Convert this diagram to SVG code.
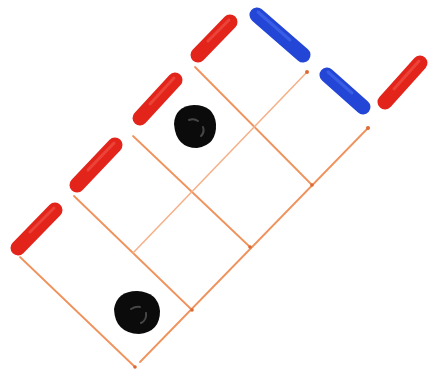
<svg xmlns="http://www.w3.org/2000/svg" width="434" height="375" viewBox="0 0 434 375">
  <style>
    .grid { stroke: #f0925c; stroke-width: 1.8; fill: none; stroke-linecap: round; }
    .grid-light { stroke: #f5b088; stroke-width: 1.5; fill: none; stroke-linecap: round; }
    .dot { fill: #dd6a34; }
    .red { stroke: #e3241a; stroke-width: 15; stroke-linecap: round; fill: none; }
    .red-hi { stroke: #f2584c; stroke-width: 3; stroke-linecap: round; fill: none; opacity: 0.6; }
    .blue { stroke: #2346d6; stroke-width: 15; stroke-linecap: round; fill: none; }
    .blue-hi { stroke: #4a6cf0; stroke-width: 3; stroke-linecap: round; fill: none; opacity: 0.6; }
    .blob { fill: #0b0b0b; }
    .blob-hi { stroke: #555555; stroke-width: 2; fill: none; stroke-linecap: round; opacity: 0.8; }
  </style>
  <rect width="434" height="375" fill="#ffffff"/>
  <g id="connectors">
    <line class="grid" x1="20" y1="257" x2="135" y2="367"/>
    <line class="grid" x1="74" y1="196" x2="192" y2="310"/>
    <line class="grid" x1="133" y1="136" x2="250" y2="247"/>
    <line class="grid" x1="195" y1="67" x2="312" y2="185"/>
    <line class="grid" x1="140" y1="362" x2="368" y2="128"/>
    <line class="grid-light" x1="133" y1="253" x2="307" y2="72"/>
    <circle class="dot" cx="135" cy="367" r="1.8"/>
    <circle class="dot" cx="192" cy="310" r="1.8"/>
    <circle class="dot" cx="250" cy="247" r="1.8"/>
    <circle class="dot" cx="312" cy="185" r="1.8"/>
    <circle class="dot" cx="368" cy="128" r="2"/>
    <circle class="dot" cx="307" cy="72" r="2"/>
  </g>
  <g id="red-1"><line class="red" x1="18" y1="248" x2="55" y2="210"/><line class="red-hi" x1="30" y1="232" x2="54" y2="208"/></g>
  <g id="red-2"><line class="red" x1="77" y1="185" x2="115" y2="145"/><line class="red-hi" x1="88" y1="170" x2="114" y2="143"/></g>
  <g id="red-3"><line class="red" x1="140" y1="118" x2="175" y2="80"/><line class="red-hi" x1="150" y1="104" x2="174" y2="78"/></g>
  <g id="red-4"><line class="red" x1="198" y1="55" x2="230" y2="22"/><line class="red-hi" x1="208" y1="41" x2="229" y2="20"/></g>
  <g id="blue-1"><line class="blue" x1="257" y1="15" x2="303" y2="55"/><line class="blue-hi" x1="258" y1="12" x2="290" y2="40"/></g>
  <g id="blue-2"><line class="blue" x1="327" y1="75" x2="363" y2="107"/><line class="blue-hi" x1="328" y1="72" x2="352" y2="93"/></g>
  <g id="red-5"><line class="red" x1="385" y1="102" x2="420" y2="63"/><line class="red-hi" x1="394" y1="89" x2="419" y2="61"/></g>
  <g id="blob-1">
    <path class="blob" d="M174 124 Q175 106 194 105 Q214 105 216 124 Q217 145 197 148 Q176 148 174 124 Z"/>
    <path class="blob-hi" d="M189 120 Q194 118 198 121"/>
    <path class="blob-hi" d="M203 127 Q205 132 201 136"/>
  </g>
  <g id="blob-2">
    <path class="blob" d="M114 309 Q117 291 137 291 Q158 292 160 311 Q160 332 139 334 Q115 333 114 309 Z"/>
    <path class="blob-hi" d="M131 309 Q136 306 140 307"/>
    <path class="blob-hi" d="M146 313 Q147 320 141 323"/>
  </g>
</svg>
